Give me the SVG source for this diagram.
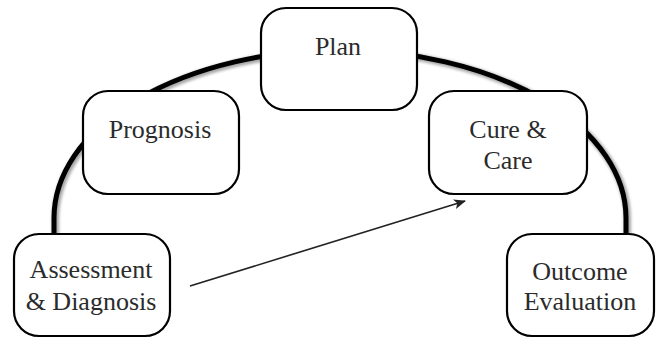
<svg xmlns="http://www.w3.org/2000/svg" width="656" height="338" viewBox="0 0 656 338">
  <defs>
    <style>
      .box { fill: #ffffff; stroke: #000000; stroke-width: 2.2; }
      .lbl { font-family: "Liberation Serif", "Times New Roman", serif; font-size: 26px; fill: #2b2b2b; text-anchor: middle; }
      .arc { fill: none; stroke: #000000; stroke-width: 5; }
      .arcshadow { fill: none; stroke: #000000; stroke-width: 7; opacity: 0.35; filter: url(#blur); }
      .link { fill: none; stroke: #222222; stroke-width: 1.6; }
    </style>
    <filter id="blur" x="-10%" y="-10%" width="120%" height="120%">
      <feGaussianBlur stdDeviation="1.5"/>
    </filter>
    <marker id="arrow" viewBox="0 0 12 10" refX="11" refY="5" markerWidth="12" markerHeight="10" markerUnits="userSpaceOnUse" orient="auto">
      <path d="M0 0 L12 5 L0 10 L3 5 Z" fill="#222222"/>
    </marker>
  </defs>
  <rect width="656" height="338" fill="#ffffff"/>
  <g id="connectors">
    <path class="arcshadow" d="M 54 240 L 54 218 A 286 168 0 0 1 626 218 L 626 240" transform="translate(1.5,1.5)"/>
    <path class="arc" d="M 54 240 L 54 218 A 286 168 0 0 1 626 218 L 626 240"/>
    <path class="link" d="M 190 286 L 465 201" marker-end="url(#arrow)"/>
  </g>
  <g id="plan">
    <rect class="box" x="261" y="8" width="156" height="102" rx="25" ry="25"/>
    <text class="lbl" x="338" y="55">Plan</text>
  </g>
  <g id="prognosis">
    <rect class="box" x="83" y="91" width="156" height="103" rx="25" ry="25"/>
    <text class="lbl" x="160" y="138">Prognosis</text>
  </g>
  <g id="cure-care">
    <rect class="box" x="429" y="91" width="158" height="103" rx="25" ry="25"/>
    <text class="lbl" x="508" y="138">Cure &amp;</text>
    <text class="lbl" x="508" y="169">Care</text>
  </g>
  <g id="assessment">
    <rect class="box" x="14" y="234" width="156" height="102" rx="25" ry="25"/>
    <text class="lbl" x="91" y="278">Assessment</text>
    <text class="lbl" x="91" y="310">&amp; Diagnosis</text>
  </g>
  <g id="outcome">
    <rect class="box" x="507" y="234" width="147" height="102" rx="25" ry="25"/>
    <text class="lbl" x="580" y="280">Outcome</text>
    <text class="lbl" x="580" y="310">Evaluation</text>
  </g>
</svg>
